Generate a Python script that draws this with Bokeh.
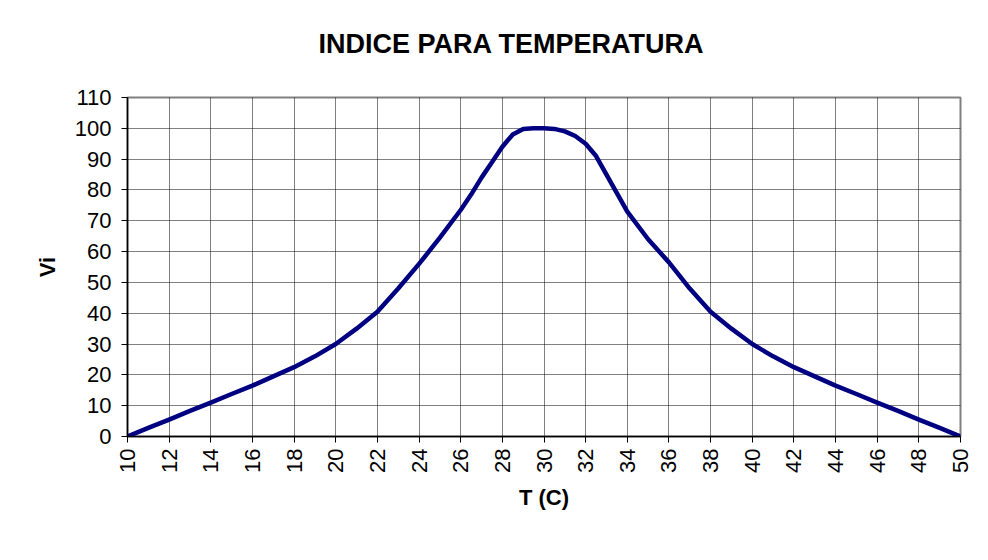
from bokeh.plotting import figure
from bokeh.models import Range1d, FixedTicker, Title
from bokeh.embed import file_html
from bokeh.resources import INLINE
import math

# Temperature (C)
temp = [10, 11, 12, 13, 14, 15, 16, 17, 18, 19, 20, 21, 22, 23, 24, 25, 26, 26.5, 27, 27.5, 28, 28.5, 29, 29.5,
        30, 30.5, 31, 31.5, 32, 32.5, 33, 33.5, 34, 35, 36, 37, 38, 39, 40, 41, 42, 43, 44, 45, 46, 47, 48, 49, 50]
# Index Vi
vi = [0, 2.8, 5.5, 8.3, 11, 13.8, 16.5, 19.5, 22.5, 26, 30, 35, 40.5, 48, 56, 64.5, 73.5, 78.5, 84, 89, 94, 98, 99.8, 100,
      100, 99.8, 99, 97.5, 95, 91, 85, 79, 73, 64, 56.5, 48, 40.5, 35, 30, 26, 22.5, 19.5, 16.5, 13.8, 11, 8.3, 5.5, 2.8, 0]

x_ticks = list(range(10, 51, 2))
y_ticks = list(range(0, 111, 10))

FONT = "Liberation Sans"

p = figure(width=980, height=552, output_backend="svg", toolbar_location=None,
           x_range=Range1d(10, 50), y_range=Range1d(0, 110),
           min_border_left=127, min_border_right=20, min_border_top=97, min_border_bottom=116,
           background_fill_color="white", border_fill_color="white")

p.title = Title(text="INDICE PARA TEMPERATURA", align="left", offset=191,
                text_font=FONT, text_font_size="27px", text_font_style="bold",
                text_color="black", standoff=0)
# empty spacer title between the chart title and the plot area
p.add_layout(Title(text=" ", text_font_size="33px", standoff=0), "above")

p.line(temp, vi, line_color="#000080", line_width=4.5, line_join="round")

for ax in (p.xaxis[0], p.yaxis[0]):
    ax.axis_line_color = "black"
    ax.axis_line_width = 1.5
    ax.major_tick_line_color = "black"
    ax.major_tick_out = 6
    ax.major_tick_in = 0
    ax.minor_tick_line_color = None
    ax.major_label_text_font = FONT
    ax.major_label_text_font_size = "22px"
    ax.major_label_text_color = "black"
    ax.axis_label_text_font = FONT
    ax.axis_label_text_font_size = "22px"
    ax.axis_label_text_font_style = "bold"
    ax.axis_label_text_color = "black"

p.xaxis[0].ticker = FixedTicker(ticks=x_ticks)
p.yaxis[0].ticker = FixedTicker(ticks=y_ticks)
p.xaxis[0].major_label_orientation = math.pi / 2
p.xaxis[0].major_label_standoff = 6
p.yaxis[0].major_label_standoff = 10
p.xaxis[0].axis_label = "T (C)"
p.yaxis[0].axis_label = "Vi"
p.xaxis[0].axis_label_standoff = 9
p.yaxis[0].axis_label_standoff = 12

for g in (p.xgrid[0], p.ygrid[0]):
    g.grid_line_color = "black"
    g.grid_line_width = 1
    g.grid_line_dash = "1 1"
    g.grid_line_alpha = 1.0
p.xgrid[0].ticker = FixedTicker(ticks=x_ticks)
p.ygrid[0].ticker = FixedTicker(ticks=y_ticks)

p.outline_line_color = "#808080"
p.outline_line_width = 2

open("out.html", "w").write(file_html(p, INLINE))
